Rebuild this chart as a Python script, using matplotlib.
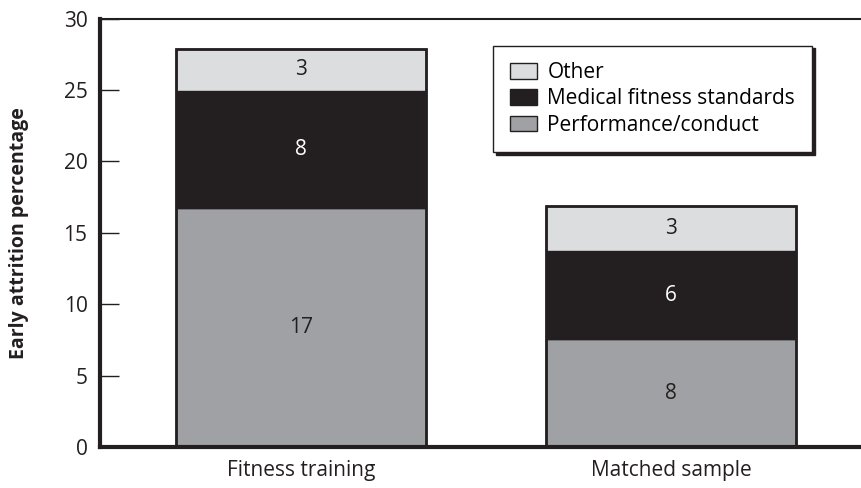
import matplotlib
matplotlib.use("Agg")
import matplotlib.pyplot as plt
import numpy as np

plt.rcParams['font.family'] = ['Open Sans', 'DejaVu Sans']

categories = ["Fitness training", "Matched sample"]
performance = [16.7, 7.55]
medical = [8.2, 6.15]
other = [3.0, 3.2]
series_names = ["Performance/conduct", "Medical fitness standards", "Other"]
colors = ["#A0A1A4", "#231F20", "#DCDDDF"]
label_colors = ["#231F20", "white", "#231F20"]
yticks = [0, 5, 10, 15, 20, 25, 30]

fig = plt.figure(figsize=(8.62, 4.88), dpi=100)
ax = fig.add_axes([0.116, 0.084, 0.884, 0.878])

x = np.arange(len(categories))
width = 0.676
bottoms = np.zeros(len(categories))
handles = []
for vals, name, col, lc in zip([performance, medical, other], series_names, colors, label_colors):
    vals = np.array(vals)
    bars = ax.bar(x, vals, width, bottom=bottoms, color=col, edgecolor="#231F20",
                  linewidth=1.0, label=name, zorder=2)
    for xi, b, v in zip(x, bottoms, vals):
        ax.text(xi, b + v / 2, f"{int(round(v))}", ha="center", va="center",
                fontsize=15, color=lc, zorder=3)
    handles.append(bars)
    bottoms = bottoms + vals

# outer outline of each stack
for xi, tot in zip(x, bottoms):
    ax.add_patch(plt.Rectangle((xi - width / 2, 0), width, tot, fill=False,
                               edgecolor="#231F20", linewidth=2.0, zorder=4))

ax.set_xlim(-0.543, 1.516)
ax.set_ylim(0, 30)
ax.set_yticks(yticks)
ax.set_xticks(x)
ax.set_xticklabels(categories, fontsize=15, color="#231F20")
ax.tick_params(axis="x", length=0, pad=9)
ax.tick_params(axis="y", direction="in", length=14, width=1.0, pad=9,
               labelsize=15, colors="#231F20")
ax.spines["right"].set_visible(False)
ax.spines["left"].set_linewidth(3)
ax.spines["bottom"].set_linewidth(3)
ax.spines["top"].set_linewidth(1.5)
for s in ax.spines.values():
    s.set_color("#231F20")

ax.set_ylabel("Early attrition percentage", fontsize=14, fontweight="bold",
              color="#231F20", labelpad=24.5)

leg = ax.legend(handles=handles[::-1], labels=series_names[::-1],
                loc="upper left", bbox_to_anchor=(0.516, 0.937), borderaxespad=0,
                fontsize=15, frameon=True, fancybox=False,
                shadow={"color": "#231F20", "alpha": 1.0},
                edgecolor="#231F20", handlelength=1.3, handleheight=0.77,
                handletextpad=0.5, borderpad=0.8, labelspacing=0.25)
leg.get_frame().set_linewidth(1.0)

fig.savefig("out.png", dpi=100)
